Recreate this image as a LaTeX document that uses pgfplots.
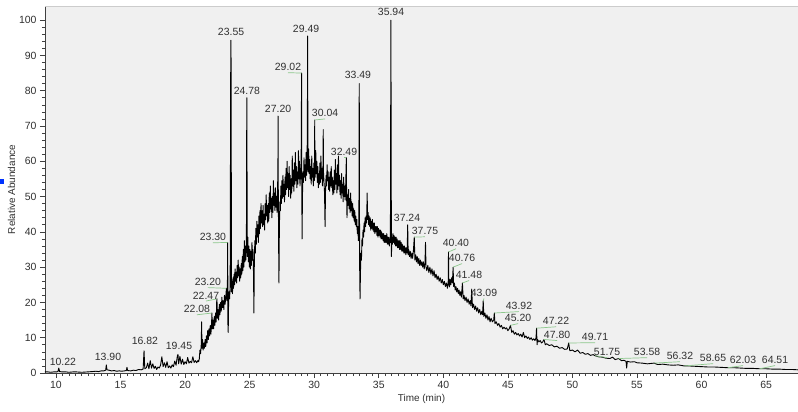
\documentclass[border=0pt]{standalone}
\usepackage{pgfplots}
\pgfplotsset{compat=1.18}
\usepackage{fontspec}
\setmainfont{Liberation Sans}
\definecolor{plotbg}{HTML}{F0F0F0}
\definecolor{leader}{HTML}{8CC88C}
\definecolor{txt}{HTML}{303030}

\pgfplotstableread{
t y
9.15 0.3
9.40 0.3
9.60 0.2
9.80 0.3
10.00 0.3
10.15 0.4
10.22 1.4
10.28 0.4
10.50 0.3
10.80 0.3
11.00 0.2
11.30 0.3
11.60 0.3
12.00 0.2
12.40 0.3
12.80 0.4
13.10 0.5
13.30 0.4
13.50 0.6
13.70 0.6
13.85 0.8
13.90 2.3
13.95 0.9
14.10 0.8
14.30 0.6
14.50 0.7
14.70 0.5
14.90 0.6
15.10 0.5
15.30 0.6
15.45 0.7
15.50 1.6
15.55 0.7
15.80 0.6
16.00 0.8
16.20 0.7
16.40 1.0
16.60 0.9
16.75 1.1
16.82 6.3
16.88 1.2
17.00 1.5
17.10 2.8
17.20 1.2
17.30 3.5
17.40 1.4
17.50 2.6
17.60 1.3
17.70 1.9
17.80 1.0
17.90 1.7
18.00 1.4
18.10 2.2
18.20 4.6
18.30 1.8
18.40 2.9
18.50 1.6
18.60 3.2
18.70 1.5
18.80 2.0
18.90 1.4
19.00 2.3
19.10 1.8
19.20 3.4
19.30 2.2
19.40 4.8
19.45 5.3
19.50 2.6
19.60 4.7
19.70 2.5
19.80 3.9
19.90 2.4
20.00 3.2
20.10 2.6
20.20 4.4
20.30 2.8
20.40 3.3
20.50 2.9
20.60 4.6
20.70 3.0
20.80 3.5
20.90 2.9
21.00 3.6
21.05 3.2
21.10 4.0
21.15 6.5
21.20 5.5
21.25 8.0
21.28 14.5
21.31 7.0
21.35 9.5
21.40 6.5
21.45 8.5
21.50 7.0
21.55 9.5
21.60 7.5
21.65 10.5
21.70 8.5
21.75 12.0
21.80 9.5
21.85 12.5
21.90 10.5
21.95 13.5
22.00 11.0
22.05 14.0
22.08 17.0
22.11 12.5
22.16 15.0
22.21 12.5
22.26 16.0
22.31 13.5
22.36 17.0
22.41 14.5
22.45 20.5
22.47 21.0
22.50 15.5
22.55 18.0
22.60 15.0
22.65 19.5
22.70 16.5
22.75 20.0
22.80 17.5
22.85 21.5
22.90 18.5
22.95 20.5
23.00 18.0
23.05 22.0
23.10 19.5
23.15 21.5
23.20 24.0
23.24 20.5
23.28 26.0
23.30 37.0
23.32 13.0
23.34 11.5
23.37 20.0
23.41 23.0
23.45 21.0
23.49 25.0
23.53 84.0
23.55 94.3
23.57 84.0
23.59 23.0
23.63 26.0
23.67 22.5
23.71 27.0
23.75 24.0
23.79 28.0
23.83 25.0
23.87 29.5
23.91 26.0
23.95 28.5
23.99 25.5
24.03 30.5
24.07 27.0
24.11 32.0
24.15 27.5
24.19 30.0
24.23 26.0
24.27 29.5
24.31 27.0
24.35 31.0
24.39 28.0
24.43 33.0
24.47 29.0
24.51 35.0
24.55 30.0
24.59 37.5
24.63 31.5
24.67 36.0
24.71 32.0
24.75 39.0
24.77 67.0
24.78 78.0
24.79 67.0
24.82 33.0
24.86 38.5
24.90 31.5
24.94 36.0
24.98 30.0
25.02 35.0
25.06 29.5
25.10 34.5
25.14 30.5
25.18 37.0
25.22 32.0
25.26 35.0
25.30 28.0
25.33 17.0
25.36 30.0
25.40 37.5
25.44 34.0
25.48 41.0
25.52 36.5
25.56 43.0
25.60 38.5
25.64 42.0
25.68 37.0
25.72 44.5
25.76 39.5
25.80 46.0
25.84 41.0
25.88 48.0
25.92 42.5
25.96 46.0
26.00 41.5
26.04 47.5
26.08 42.0
26.12 45.0
26.16 40.5
26.20 48.0
26.24 43.5
26.28 50.5
26.32 44.5
26.36 47.5
26.40 42.5
26.44 48.0
26.48 43.0
26.52 51.0
26.56 45.5
26.60 53.0
26.64 46.5
26.68 49.5
26.72 44.0
26.76 50.0
26.80 45.5
26.84 54.5
26.88 47.5
26.92 51.0
26.96 46.0
27.00 52.5
27.04 47.0
27.08 50.0
27.12 45.5
27.16 51.5
27.19 58.0
27.20 72.8
27.21 58.0
27.24 38.0
27.27 25.5
27.30 40.0
27.34 48.5
27.38 46.0
27.42 53.0
27.46 48.0
27.50 54.5
27.54 49.5
27.58 56.0
27.62 50.0
27.66 53.5
27.70 48.5
27.74 55.5
27.78 50.5
27.82 58.0
27.86 52.0
27.90 60.0
27.94 52.5
27.98 56.5
28.02 50.0
28.06 58.5
28.10 52.0
28.14 56.0
28.18 49.5
28.22 55.0
28.26 51.0
28.30 61.5
28.34 53.0
28.38 57.5
28.42 51.5
28.46 59.5
28.50 53.5
28.54 62.5
28.58 54.5
28.62 58.5
28.66 52.5
28.70 57.0
28.74 53.5
28.78 63.0
28.82 55.0
28.86 60.0
28.90 53.0
28.94 58.0
28.98 55.0
29.01 75.0
29.02 85.0
29.03 60.0
29.06 38.0
29.09 50.0
29.13 57.0
29.17 54.0
29.21 61.0
29.25 55.5
29.29 59.0
29.33 54.5
29.37 62.5
29.41 56.0
29.45 59.5
29.48 80.0
29.49 95.5
29.50 80.0
29.53 57.0
29.57 63.5
29.61 56.5
29.65 60.5
29.69 55.0
29.73 58.5
29.77 53.5
29.81 61.5
29.85 55.5
29.89 58.0
29.93 53.0
29.97 59.5
30.01 54.5
30.03 62.0
30.04 71.7
30.05 62.0
30.08 55.5
30.12 63.0
30.16 56.5
30.20 60.0
30.24 54.0
30.28 58.5
30.32 52.5
30.36 56.5
30.40 53.5
30.44 59.5
30.48 54.0
30.52 61.5
30.56 55.0
30.60 58.0
30.64 53.0
30.68 59.0
30.70 69.0
30.72 57.0
30.76 54.0
30.80 51.0
30.84 41.5
30.88 52.0
30.92 56.0
30.96 53.0
31.00 59.0
31.04 54.5
31.08 57.0
31.12 52.0
31.16 55.5
31.20 51.5
31.24 57.0
31.28 53.0
31.32 58.5
31.36 52.5
31.40 55.5
31.44 50.5
31.48 54.5
31.52 51.0
31.56 57.5
31.60 52.0
31.64 60.5
31.68 53.5
31.72 56.5
31.76 51.0
31.80 59.0
31.84 52.0
31.88 61.5
31.92 53.0
31.96 56.0
32.00 50.5
32.04 54.5
32.08 49.5
32.12 56.5
32.16 51.0
32.20 53.5
32.24 48.5
32.28 55.5
32.32 50.0
32.36 53.0
32.40 49.0
32.44 53.5
32.47 58.0
32.49 61.0
32.51 50.0
32.54 44.0
32.58 50.5
32.62 47.5
32.66 52.0
32.70 46.5
32.74 49.5
32.78 45.5
32.82 51.0
32.86 46.0
32.90 48.5
32.94 44.5
32.98 48.0
33.02 44.0
33.06 46.5
33.10 43.0
33.14 46.0
33.18 42.0
33.22 44.5
33.26 41.5
33.30 43.5
33.34 39.5
33.38 41.5
33.42 37.5
33.46 39.5
33.48 75.0
33.49 82.0
33.50 60.0
33.52 30.0
33.55 21.0
33.58 28.0
33.62 34.0
33.66 32.0
33.70 38.0
33.74 36.0
33.78 40.5
33.82 38.5
33.86 42.5
33.90 40.0
33.94 44.0
33.98 41.5
34.02 44.5
34.06 42.5
34.10 51.0
34.14 43.5
34.18 45.5
34.22 42.0
34.26 44.5
34.30 41.5
34.34 44.0
34.38 40.5
34.42 43.0
34.46 41.0
34.50 43.5
34.54 40.5
34.58 42.5
34.62 40.0
34.66 42.5
34.70 39.5
34.74 41.5
34.78 40.0
34.82 41.5
34.86 39.0
34.90 41.5
34.94 38.5
34.98 41.0
35.02 39.0
35.06 40.5
35.10 38.5
35.14 40.5
35.18 38.0
35.22 40.0
35.26 38.0
35.30 39.5
35.34 37.5
35.38 39.5
35.42 37.0
35.46 39.0
35.50 37.0
35.54 39.0
35.58 37.0
35.62 39.5
35.66 36.5
35.70 38.5
35.74 36.5
35.78 38.5
35.82 36.0
35.86 38.0
35.90 37.0
35.93 85.0
35.94 100.0
35.95 85.0
35.98 33.0
36.02 38.5
36.06 36.5
36.10 39.5
36.14 37.0
36.18 39.0
36.22 36.5
36.26 38.5
36.30 36.0
36.34 38.5
36.38 36.0
36.42 38.0
36.46 35.5
36.50 37.5
36.54 35.5
36.58 37.5
36.62 35.0
36.66 37.5
36.70 35.0
36.74 37.0
36.78 34.5
36.82 36.5
36.86 34.5
36.90 36.0
36.94 34.0
36.98 36.0
37.02 34.0
37.06 35.5
37.10 33.5
37.14 35.5
37.20 34.0
37.24 42.0
37.28 33.5
37.32 35.0
37.38 33.0
37.44 34.5
37.50 32.5
37.56 34.0
37.62 32.5
37.68 34.5
37.75 38.5
37.80 32.0
37.86 33.5
37.92 31.5
37.98 33.0
38.04 31.0
38.10 32.5
38.16 30.5
38.22 32.0
38.28 30.5
38.34 31.5
38.40 30.0
38.46 31.5
38.52 29.5
38.58 31.0
38.62 37.0
38.66 30.0
38.72 29.0
38.80 30.5
38.88 28.5
38.96 30.0
39.04 28.0
39.12 29.5
39.20 27.5
39.28 29.0
39.36 27.0
39.44 28.0
39.52 26.5
39.60 27.5
39.68 26.0
39.76 27.0
39.84 25.5
39.92 26.5
40.00 25.0
40.08 26.0
40.16 24.5
40.24 25.5
40.32 24.0
40.38 26.0
40.40 34.3
40.43 25.0
40.48 24.4
40.52 26.5
40.58 25.0
40.64 27.0
40.70 25.5
40.76 30.0
40.80 24.5
40.86 25.5
40.92 23.5
40.98 24.5
41.04 23.0
41.10 24.0
41.16 22.5
41.22 23.5
41.28 22.0
41.34 23.0
41.40 21.5
41.48 25.5
41.54 21.0
41.60 22.0
41.68 20.5
41.76 21.5
41.84 20.0
41.92 21.0
42.00 19.5
42.08 20.5
42.14 19.0
42.20 23.8
42.26 18.5
42.34 19.5
42.42 18.0
42.50 19.0
42.58 17.5
42.66 18.5
42.74 17.0
42.82 18.0
42.90 16.5
42.98 17.5
43.04 16.5
43.09 20.5
43.14 16.0
43.22 17.0
43.30 15.5
43.38 16.5
43.46 15.0
43.54 16.0
43.62 14.5
43.70 15.5
43.80 14.5
43.90 15.0
43.95 17.0
44.00 14.0
44.10 14.5
44.20 13.5
44.30 14.0
44.40 13.0
44.50 13.5
44.60 12.5
44.70 13.0
44.80 12.5
44.90 12.8
45.00 12.0
45.10 12.5
45.20 13.5
45.30 11.5
45.40 12.0
45.50 11.0
45.60 11.5
45.70 10.8
45.80 11.2
45.90 10.5
46.00 11.0
46.10 10.2
46.20 11.5
46.30 10.0
46.40 10.5
46.50 9.8
46.60 10.2
46.70 9.5
46.80 10.0
46.90 9.3
47.00 9.7
47.10 9.2
47.18 10.0
47.22 12.7
47.26 8.0
47.30 9.5
47.40 8.8
47.50 9.2
47.60 8.5
47.70 8.8
47.80 9.5
47.90 8.0
48.00 8.3
48.20 7.8
48.40 8.0
48.60 7.4
48.80 7.6
49.00 7.0
49.20 7.2
49.40 6.7
49.60 6.8
49.71 8.5
49.80 6.3
50.00 6.5
50.20 6.0
50.40 6.5
50.60 5.6
50.80 5.8
51.00 5.3
51.20 5.5
51.40 5.0
51.60 5.2
51.75 4.9
52.00 4.6
52.30 4.5
52.60 4.2
52.90 4.1
53.10 4.5
53.30 3.8
53.58 4.1
53.80 3.5
54.00 3.6
54.15 3.3
54.20 1.4
54.25 3.3
54.50 3.1
54.80 3.2
55.00 2.9
55.40 2.8
55.80 2.6
56.32 2.8
56.60 2.4
57.00 2.5
57.40 2.3
57.80 2.2
58.20 2.3
58.65 2.0
59.00 2.0
59.50 1.9
60.00 1.8
60.50 1.7
61.00 1.7
61.50 1.6
62.03 1.5
62.50 1.5
63.00 1.4
63.50 1.3
64.00 1.3
64.51 1.2
65.00 1.2
65.50 1.1
66.00 1.1
66.50 1.0
67.00 1.0
67.47 0.9
}\tic

\begin{document}
\begin{tikzpicture}[
  lbl/.style={font=\fontsize{10.5}{12}\selectfont, text=txt, inner sep=0pt},
  ld/.style={draw=leader, line width=0.7bp}]
\useasboundingbox (-45bp,-39bp) rectangle (753bp,373bp);
\fill[blue!80!cyan] (-45bp,189bp) rectangle (-41bp,194bp);
\begin{axis}[
  at={(0,0)}, anchor=south west,
  scale only axis, width=753bp, height=367bp,
  xmin=9.15, xmax=67.47, ymin=0, ymax=104,
  axis x line*=bottom, axis y line*=left,
  axis line style={black!75, line width=0.7bp},
  axis background/.style={fill=plotbg},
  xtick={10,15,...,65}, minor x tick num=9,
  ytick={0,10,...,100}, minor y tick num=4,
  tick align=outside,
  major tick length=5bp, minor tick length=3bp,
  tick style={black!75, line width=0.6bp},
  ticklabel style={font=\fontsize{10.5}{12}\selectfont, text=txt},
  /pgf/number format/assume math mode=true,
  xlabel={Time (min)}, ylabel={Relative Abundance},
  label style={font=\fontsize{10}{12}\selectfont, text=txt},
  xlabel style={yshift=1bp},
  ylabel style={yshift=-3bp},
  clip=false,
]
\draw[black!20, line width=0.8bp] (rel axis cs:0,1) -- (rel axis cs:1,1);
\addplot[black, line width=0.9bp, line join=round] table[x=t, y=y] {\tic};

% labels above isolated peaks
\node[lbl] at (axis cs:10.54,3.1) {10.22};
\node[lbl] at (axis cs:14.03,4.5) {13.90};
\node[lbl] at (axis cs:16.89,9.1) {16.82};
\node[lbl] at (axis cs:19.53,7.7) {19.45};
\node[lbl] at (axis cs:23.56,96.6) {23.55};
\node[lbl] at (axis cs:24.79,79.9) {24.78};
\node[lbl] at (axis cs:27.20,74.8) {27.20};
\node[lbl] at (axis cs:29.37,97.5) {29.49};
\node[lbl] at (axis cs:33.39,84.4) {33.49};
\node[lbl] at (axis cs:35.95,102.3) {35.94};
\node[lbl] at (axis cs:37.19,43.9) {37.24};

% labels with leader lines
\draw[ld] (axis cs:22.08,17) -- (axis cs:20.92,16.5);
\node[lbl] at (axis cs:20.92,18.1) {22.08};
\draw[ld] (axis cs:22.47,21) -- (axis cs:21.62,20.4);
\node[lbl] at (axis cs:21.62,22) {22.47};
\draw[ld] (axis cs:23.20,24) -- (axis cs:21.77,24.2);
\node[lbl] at (axis cs:21.77,25.8) {23.20};
\draw[ld] (axis cs:23.30,37) -- (axis cs:22.16,36.9);
\node[lbl] at (axis cs:22.16,38.5) {23.30};
\draw[ld] (axis cs:29.02,85) -- (axis cs:27.97,85.1);
\node[lbl] at (axis cs:27.97,86.7) {29.02};
\draw[ld] (axis cs:30.04,71.7) -- (axis cs:30.84,72.0);
\node[lbl] at (axis cs:30.84,73.6) {30.04};
\draw[ld] (axis cs:32.49,61) -- (axis cs:32.31,61.0);
\node[lbl] at (axis cs:32.31,62.6) {32.49};
\draw[ld] (axis cs:37.75,38.5) -- (axis cs:38.58,38.6);
\node[lbl] at (axis cs:38.58,40.2) {37.75};
\draw[ld] (axis cs:40.40,34.3) -- (axis cs:40.98,35.2);
\node[lbl] at (axis cs:40.98,36.8) {40.40};
\draw[ld] (axis cs:40.76,30) -- (axis cs:41.45,31.0);
\node[lbl] at (axis cs:41.45,32.6) {40.76};
\draw[ld] (axis cs:41.48,25.5) -- (axis cs:41.99,26.2);
\node[lbl] at (axis cs:41.99,27.8) {41.48};
\draw[ld] (axis cs:43.09,20.5) -- (axis cs:43.15,21.1);
\node[lbl] at (axis cs:43.15,22.7) {43.09};
\draw[ld] (axis cs:43.95,17) -- (axis cs:45.86,17.4);
\node[lbl] at (axis cs:45.86,19) {43.92};
\draw[ld] (axis cs:45.20,13.5) -- (axis cs:45.79,14.0);
\node[lbl] at (axis cs:45.79,15.6) {45.20};
\draw[ld] (axis cs:47.22,12.7) -- (axis cs:48.73,13.1);
\node[lbl] at (axis cs:48.73,14.7) {47.22};
\draw[ld] (axis cs:47.80,9.5) -- (axis cs:48.81,9.2);
\node[lbl] at (axis cs:48.81,10.8) {47.80};
\draw[ld] (axis cs:49.71,8.5) -- (axis cs:51.75,8.6);
\node[lbl] at (axis cs:51.75,10.2) {49.71};
\draw[ld] (axis cs:51.75,4.9) -- (axis cs:52.68,4.35);
\node[lbl] at (axis cs:52.68,5.95) {51.75};
\draw[ld] (axis cs:53.58,4.1) -- (axis cs:55.78,4.35);
\node[lbl] at (axis cs:55.78,5.95) {53.58};
\draw[ld] (axis cs:56.32,2.8) -- (axis cs:58.33,3.2);
\node[lbl] at (axis cs:58.33,4.8) {56.32};
\draw[ld] (axis cs:58.65,2.0) -- (axis cs:60.89,2.65);
\node[lbl] at (axis cs:60.89,4.25) {58.65};
\draw[ld] (axis cs:62.03,1.5) -- (axis cs:63.21,2.1);
\node[lbl] at (axis cs:63.21,3.7) {62.03};
\draw[ld] (axis cs:64.51,1.2) -- (axis cs:65.69,2.1);
\node[lbl] at (axis cs:65.69,3.7) {64.51};
\end{axis}
\end{tikzpicture}
\end{document}
